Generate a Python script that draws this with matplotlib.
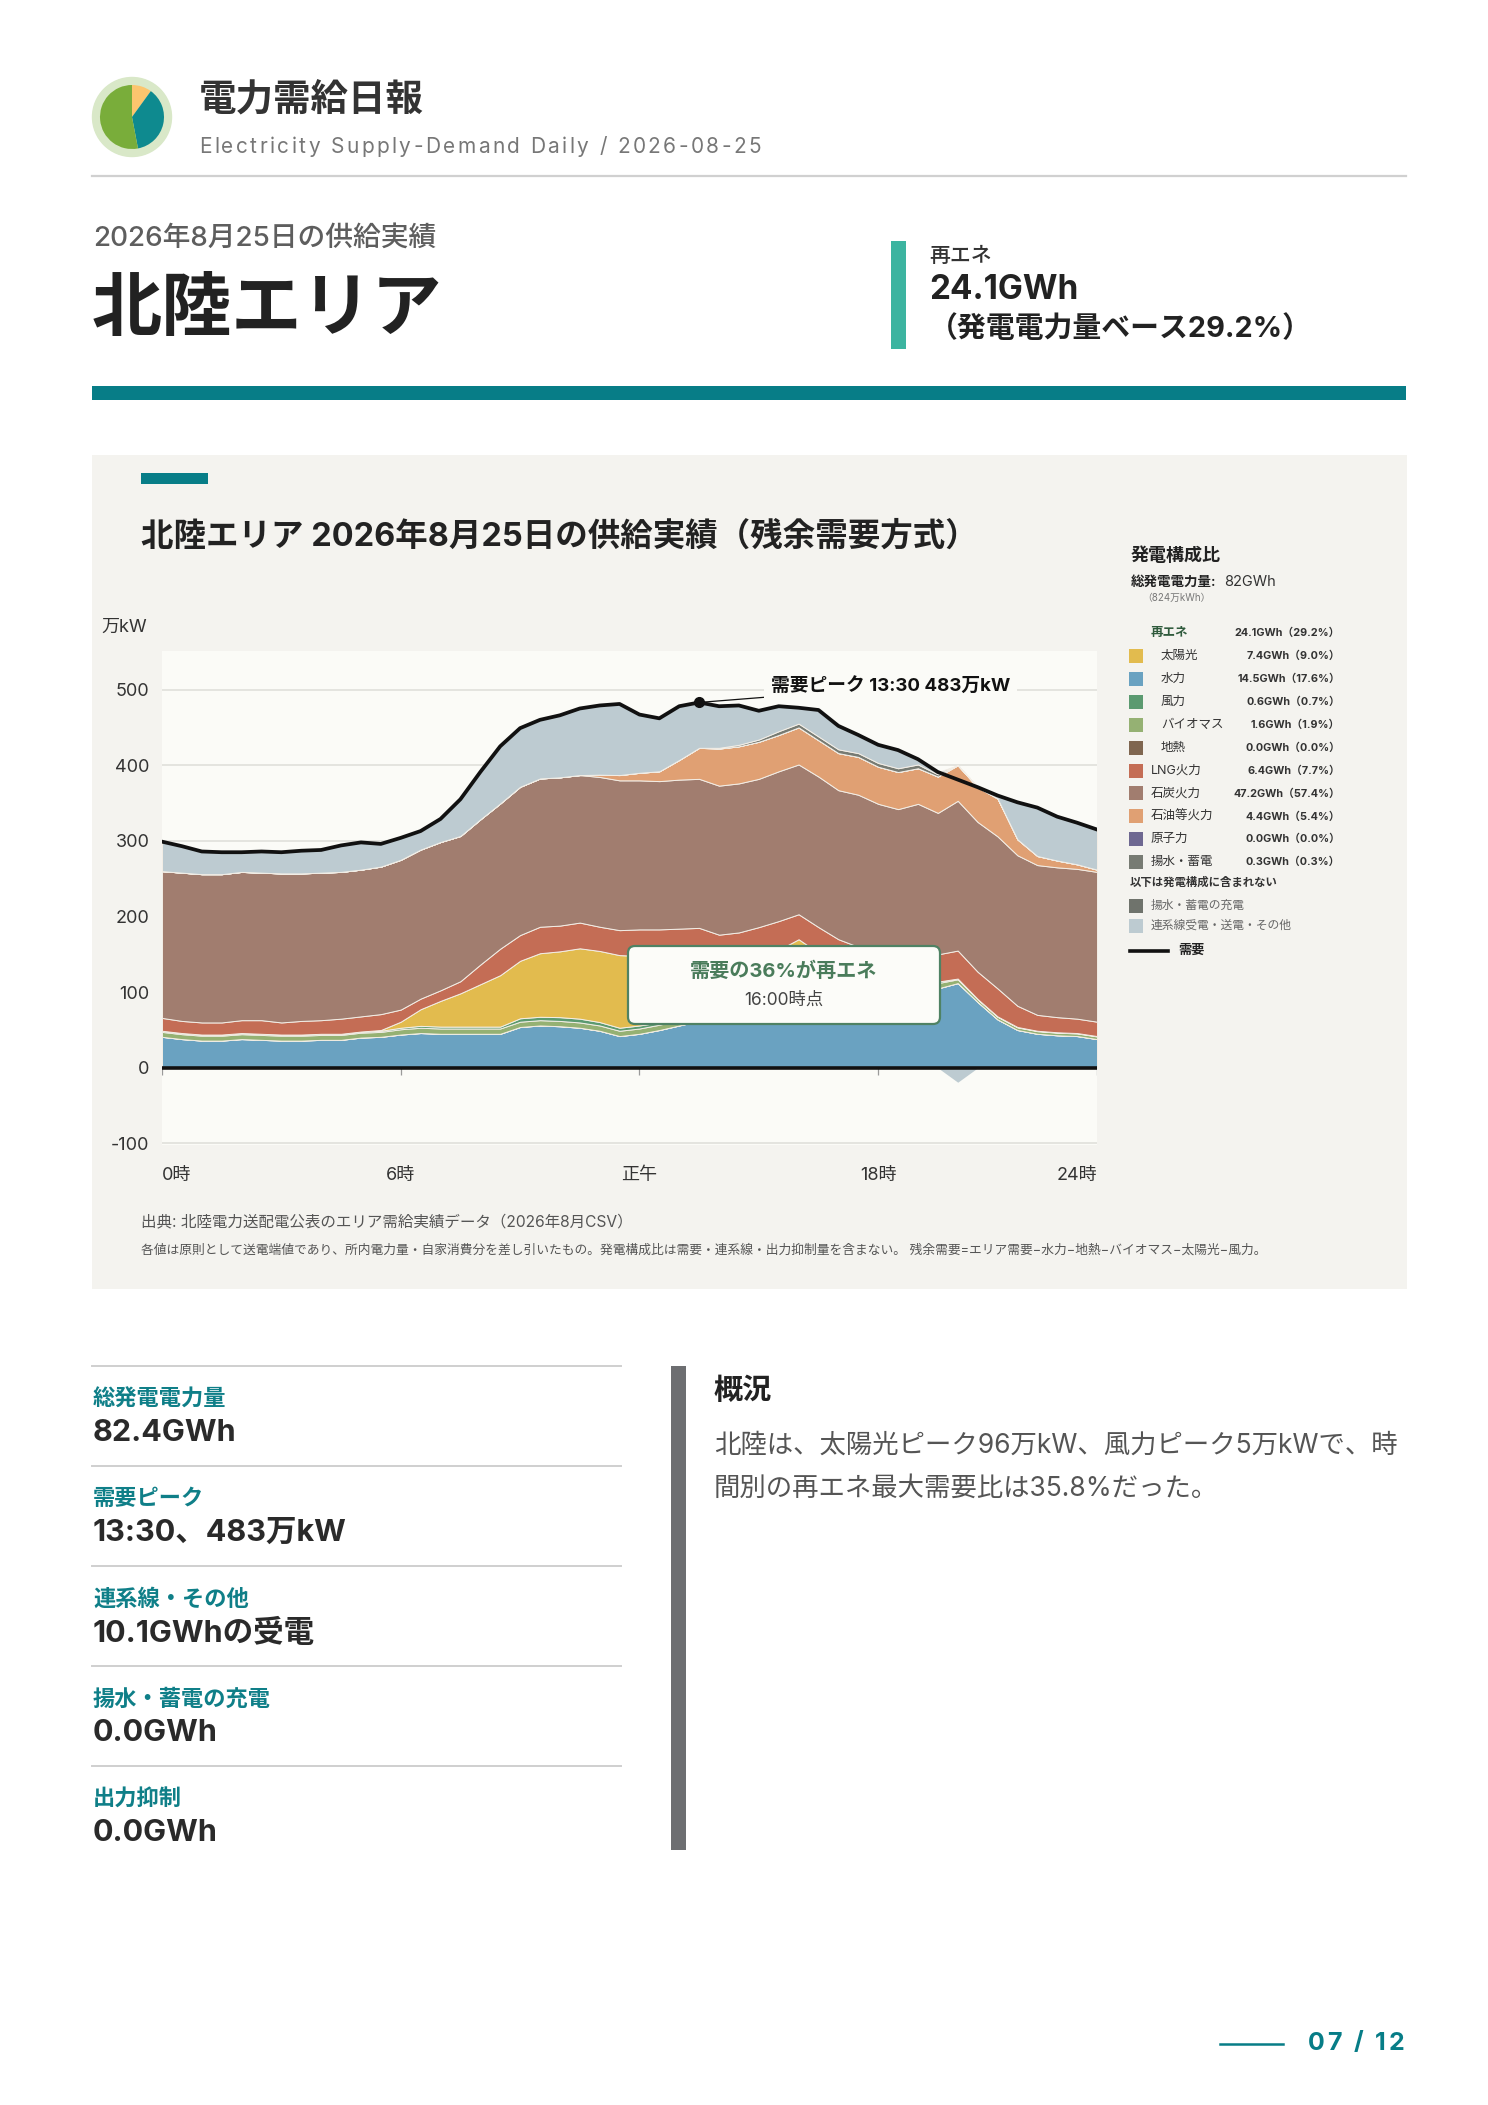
import numpy as np
import matplotlib
matplotlib.use("Agg")
import matplotlib.pyplot as plt
from matplotlib.patches import Rectangle, FancyBboxPatch, Wedge, Circle

FONT = ["Inter", "Noto Sans CJK JP", "DejaVu Sans"]
plt.rcParams["font.family"] = FONT
plt.rcParams["axes.unicode_minus"] = False

# ---- データ（万kW、30分値 0:00〜23:30）----
slots = list(range(48))
tick_pos = [0, 12, 24, 36, 47]
tick_labels = ["0時", "6時", "正午", "18時", "24時"]

demand = [299, 293, 286, 285, 285, 286, 285, 287, 288, 294, 298, 296,
          304, 313, 329, 355, 391, 425, 449, 460, 466, 475, 479, 481,
          467, 462, 478, 483, 478, 479, 472, 478, 476, 473, 452, 440,
          427, 420, 408, 391, 381, 371, 360, 351, 344, 332, 324, 315]
hydro = [41, 38, 36, 36, 38, 37, 36, 36, 37, 37, 40, 41,
         44, 46, 45, 45, 45, 45, 54, 56, 55, 53, 49, 42,
         45, 50, 56, 62, 62, 70, 80, 90, 105, 98, 96, 98,
         101, 102, 103, 105, 112, 87, 64, 50, 45, 43, 42, 38]
geothermal = [0] * 48
biomass = [6.5, 6.5, 6.5, 6.5, 6.5, 6.5, 6.5, 6.5, 6.5, 6.5, 6.5, 6.5,
           7, 7, 7, 7, 7, 7, 7, 7, 7, 7, 7, 7,
           7, 7, 7, 7, 7, 7, 7, 7, 7, 7, 7, 7,
           7, 7, 7, 7, 5, 3.5, 3.5, 3.5, 3.5, 3.5, 3.5, 3.5]
wind = [1.5, 1.5, 1.5, 1.5, 1.5, 1.5, 1.5, 1.5, 1.5, 1.5, 1.5, 1.5,
        2, 2.5, 2.5, 2.5, 2.5, 2.5, 4.5, 4.5, 5, 5, 4.5, 4,
        4, 3, 3, 3, 3, 3, 3, 3, 3, 3, 3, 3,
        2, 2, 2, 2, 1, 0.5, 0.5, 0.5, 0.5, 0.5, 0.5, 0.5]
solar = [0, 0, 0, 0, 0, 0, 0, 0, 0, 0, 0, 1,
         8, 22, 34, 44, 56, 68, 76, 84, 87, 93, 94, 96,
         92, 85, 79, 73, 67, 62, 58, 56, 55, 44, 32, 20,
         11, 4, 1, 0, 0, 0, 0, 0, 0, 0, 0, 0]
lng = [17, 16, 16, 16, 17, 18, 16, 18, 18, 20, 20, 21,
       16, 14, 14, 16, 26, 35, 34, 35, 34, 34, 32, 33,
       35, 38, 39, 40, 37, 37, 38, 38, 33, 34, 32, 32,
       34, 35, 35, 36, 37, 36, 37, 28, 21, 20, 19, 19]
coal = [194, 196, 196, 196, 196, 195, 197, 195, 195, 194, 194, 195,
        198, 197, 196, 192, 192, 192, 196, 196, 196, 195, 198, 198,
        197, 196, 197, 197, 197, 197, 196, 198, 198, 199, 197, 201,
        194, 192, 201, 187, 198, 198, 201, 199, 198, 198, 198, 198]
oil = [0, 0, 0, 0, 0, 0, 0, 0, 0, 0, 0, 0,
       0, 0, 0, 0, 0, 0, 0, 0, 0, 0, 3, 7,
       10, 13, 26, 41, 49, 49, 49, 48, 49, 48, 49, 50,
       49, 49, 47, 48, 47, 46, 50, 21, 12, 9, 6, 3]
nuclear = [0] * 48
pumped = [0, 0, 0, 0, 0, 0, 0, 0, 0, 0, 0, 0,
          0, 0, 0, 0, 0, 0, 0, 0, 0, 0, 0, 0,
          0, 0, 0, 0, 1, 2, 3, 5, 5, 5, 5, 5,
          5, 5, 5, 3, 0, 0, 0, 0, 0, 0, 0, 0]
interconnect = [39, 35, 30, 29, 26, 28, 28, 30, 30, 35, 36, 30,
                29, 24, 31, 49, 63, 75, 77, 78, 82, 88, 91, 94,
                77, 70, 71, 60, 55, 52, 38, 33, 21, 35, 31, 24,
                24, 24, 7, 3, -19, 0, 4, 49, 64, 58, 55, 53]

legend_labels = ["太陽光", "水力", "風力", "バイオマス", "地熱",
                 "LNG火力", "石炭火力", "石油等火力", "原子力", "揚水・蓄電"]
legend_values = ["7.4GWh（9.0%）", "14.5GWh（17.6%）", "0.6GWh（0.7%）",
                 "1.6GWh（1.9%）", "0.0GWh（0.0%）", "6.4GWh（7.7%）",
                 "47.2GWh（57.4%）", "4.4GWh（5.4%）", "0.0GWh（0.0%）",
                 "0.3GWh（0.3%）"]
legend_indent = [True, True, True, True, True, False, False, False, False, False]

kpi_labels = ["総発電電力量", "需要ピーク", "連系線・その他", "揚水・蓄電の充電", "出力抑制"]
kpi_values = ["82.4GWh", "13:30、483万kW", "10.1GWhの受電", "0.0GWh", "0.0GWh"]

logo_fracs = [0.10, 0.37, 0.53]

# ---- 色 ----
C = {
    "solar": "#e2bb4e", "hydro": "#6aa2c1", "wind": "#5b9a70",
    "biomass": "#95b173", "geo": "#7f6650", "lng": "#c46d55",
    "coal": "#a17d6f", "oil": "#e0a073", "nuclear": "#6e6891",
    "pumped": "#777b73", "charge": "#6f736c", "ic": "#bdcbd1",
}
legend_colors = [C["solar"], C["hydro"], C["wind"], C["biomass"], C["geo"],
                 C["lng"], C["coal"], C["oil"], C["nuclear"], C["pumped"]]
TEAL = "#077d87"
PLOT_BG = "#fbfbf7"
PANEL_BG = "#f4f3ef"

W, H = 1488, 2105
fig = plt.figure(figsize=(W / 100, H / 100), dpi=100)
fig.patch.set_facecolor("white")
renderer = fig.canvas.get_renderer()

page = fig.add_axes([0, 0, 1, 1])
page.set_xlim(0, W)
page.set_ylim(H, 0)
page.axis("off")


def txt(x, y, s, size, color="#222222", weight="normal", ha="left", va="center", ax=None, **kw):
    return (ax or page).text(x, y, s, fontsize=size, color=color, fontweight=weight,
                             ha=ha, va=va, family=FONT, **kw)


def spaced(x, y, s, size, gap, color="#222222", weight="normal", right=False):
    # 字間を空けて一文字ずつ置く
    widths = []
    for ch in s:
        if ch == " ":
            widths.append(size * 100 / 72 * 0.28)
        else:
            t = txt(0, 0, ch, size, weight=weight)
            widths.append(t.get_window_extent(renderer).width)
            t.remove()
    total = sum(widths) + gap * (len(s) - 1)
    if right:
        x -= total
    for ch, w in zip(s, widths):
        if ch != " ":
            txt(x, y, ch, size, color=color, weight=weight)
        x += w + gap


# ---- ヘッダー ----
page.add_patch(Circle((132, 117), 39.5, color="#d9e8c8"))
start = -90
for f, col in zip(logo_fracs, ["#fcc56e", "#0e8a8f", "#79ad3a"]):
    page.add_patch(Wedge((132, 117), 32, start, start + 360 * f, color=col, lw=0))
    start += 360 * f

txt(199, 100, "電力需給日報", 27, color="#333333", weight="bold")
spaced(199, 147, "Electricity Supply-Demand Daily / 2026-08-25", 15, 2.4, color="#777777")
page.plot([92, 1406], [176, 176], color="#d0d0d0", lw=1.6)

txt(93, 239, "2026年8月25日の供給実績", 20, color="#5e5e5e", weight="medium")
txt(92, 311, "北陸エリア", 50.5, color="#222222", weight="bold")

page.add_patch(Rectangle((891, 241), 15, 108, color="#3cb4a0", lw=0))
txt(929, 256, "再エネ", 15, color="#333333", weight="medium")
txt(929, 290, "24.1GWh", 24, color="#222222", weight="bold")
txt(929, 329, "（発電電力量ベース29.2%）", 20.8, color="#222222", weight="bold")

page.add_patch(Rectangle((92, 386), 1314, 14, color=TEAL, lw=0))

# ---- チャートパネル ----
page.add_patch(Rectangle((92, 455), 1315, 834, color=PANEL_BG, lw=0))
page.add_patch(Rectangle((141, 473), 67, 11, color=TEAL, lw=0))
txt(141, 537, "北陸エリア 2026年8月25日の供給実績（残余需要方式）", 23.4,
    color="#222222", weight="bold")
txt(101, 627, "万kW", 13, color="#333333")

ax = fig.add_axes([162 / W, 1 - 1145 / H, 935 / W, 494 / H], zorder=2)
ax.set_facecolor(PLOT_BG)

ic_pos = np.maximum(np.array(interconnect, dtype=float), 0)
ic_neg = np.minimum(np.array(interconnect, dtype=float), 0)
layers = [hydro, geothermal, biomass, wind, solar, lng, coal, oil, nuclear, pumped, ic_pos]
layer_colors = [C["hydro"], C["geo"], C["biomass"], C["wind"], C["solar"], C["lng"],
                C["coal"], C["oil"], C["nuclear"], C["pumped"], C["ic"]]
ax.stackplot(slots, *layers, colors=layer_colors, edgecolor="#f3eee6",
             linewidth=0.7, zorder=2)
ax.fill_between(slots, 0, ic_neg, color=C["ic"], lw=0, zorder=2)

ax.plot(slots, demand, color="#111111", lw=2.7, solid_joinstyle="round", zorder=5)
ax.axhline(0, color="#111111", lw=2.6, zorder=4)
ax.vlines(tick_pos, -9, 0, color="#9a9a9a", lw=0.9, zorder=1)

pk = int(np.argmax(demand))
ax.plot(slots[pk], demand[pk], "o", color="#111111", ms=7, zorder=6)
ax.annotate("需要ピーク 13:30 483万kW", xy=(slots[pk], demand[pk]),
            xytext=(30.6, 503), ha="left", va="center", fontsize=13.5,
            fontweight="bold", color="#111111", zorder=7,
            bbox=dict(boxstyle="square,pad=0.35", fc=PLOT_BG, ec="none"),
            arrowprops=dict(arrowstyle="-", color="#111111", lw=0.9,
                            shrinkA=0, shrinkB=3))

ax.set_xlim(0, 47)
ax.set_ylim(-102, 551)
ax.set_yticks(range(-100, 501, 100))
ax.set_xticks(tick_pos)
ax.set_xticklabels(tick_labels)
ax.grid(axis="y", color="#deded8", lw=1.1, zorder=0)
ax.set_axisbelow(True)
ax.tick_params(axis="both", length=0, labelsize=13, colors="#333333")
ax.tick_params(axis="y", pad=9)
ax.tick_params(axis="x", pad=16)
xl = ax.get_xticklabels()
xl[0].set_ha("left")
xl[-1].set_ha("right")
for s in ax.spines.values():
    s.set_visible(False)

# 注記ボックス
over = fig.add_axes([0, 0, 1, 1], zorder=8)
over.set_xlim(0, W)
over.set_ylim(H, 0)
over.axis("off")
over.add_patch(FancyBboxPatch((628, 946), 312, 78, boxstyle="round,pad=0,rounding_size=7",
                              fc="#fcfcf9", ec="#4f8264", lw=1.6))
txt(784, 971, "需要の36%が再エネ", 14.5, color="#4a7c5b", weight="bold", ha="center", ax=over)
txt(784, 1000, "16:00時点", 12.5, color="#444444", ha="center", ax=over)

# ---- 凡例 ----
txt(1131, 556, "発電構成比", 13, color="#222222", weight="bold")
txt(1131, 582, "総発電電力量:", 9.7, color="#222222", weight="bold")
txt(1224, 582, "82GWh", 10.5, color="#333333")
txt(1142, 598, "（824万kWh）", 7, color="#777777")
txt(1151, 633, "再エネ", 9, color="#2f5a3c", weight="bold")
txt(1340, 633, "24.1GWh（29.2%）", 7.8, color="#333333", weight="bold", ha="right")
for k, (lab, val, col, ind) in enumerate(zip(legend_labels, legend_values,
                                             legend_colors, legend_indent)):
    y = 656 + 22.9 * k
    page.add_patch(Rectangle((1129, y - 7), 14, 14, color=col, lw=0))
    txt(1161 if ind else 1151, y, lab, 9, color="#333333")
    txt(1340, y, val, 7.8, color="#333333", weight="bold", ha="right")
txt(1130, 882, "以下は発電構成に含まれない", 8.2, color="#333333", weight="bold")
page.add_patch(Rectangle((1129, 899), 14, 14, color=C["charge"], lw=0))
txt(1151, 906, "揚水・蓄電の充電", 8.5, color="#666666")
page.add_patch(Rectangle((1129, 919), 14, 14, color=C["ic"], lw=0))
txt(1151, 926, "連系線受電・送電・その他", 8.5, color="#666666")
page.plot([1130, 1168], [951, 951], color="#111111", lw=2.6)
txt(1178, 951, "需要", 9.5, color="#222222", weight="bold")

# 出典
txt(141, 1222, "出典: 北陸電力送配電公表のエリア需給実績データ（2026年8月CSV）", 11.2, color="#555555")
txt(141, 1250, "各値は原則として送電端値であり、所内電力量・自家消費分を差し引いたもの。"
    "発電構成比は需要・連系線・出力抑制量を含まない。 "
    "残余需要=エリア需要−水力−地熱−バイオマス−太陽光−風力。", 9.2, color="#555555")

# ---- KPI ----
for k, (lab, val) in enumerate(zip(kpi_labels, kpi_values)):
    y0 = 1366 + 100 * k
    page.plot([92, 621], [y0, y0], color="#cfcfcf", lw=1.4)
    txt(93, y0 + 33, lab, 16, color="#0f7f88", weight="bold")
    txt(93, y0 + 67, val, 22, color="#2a2a2a", weight="bold")

page.add_patch(Rectangle((671, 1366), 15, 484, color="#6d6e71", lw=0))
txt(714, 1391, "概況", 21, color="#222222", weight="bold")
txt(714, 1446, "北陸は、太陽光ピーク96万kW、風力ピーク5万kWで、時", 19, color="#555555")
txt(714, 1489, "間別の再エネ最大需要比は35.8%だった。", 19, color="#555555")

# フッター
page.plot([1220, 1283], [2044, 2044], color=TEAL, lw=1.8)
spaced(1404, 2043, "07 / 12", 18, 2.5, color=TEAL, weight="bold", right=True)

fig.savefig("out.png", dpi=100, facecolor="white")
